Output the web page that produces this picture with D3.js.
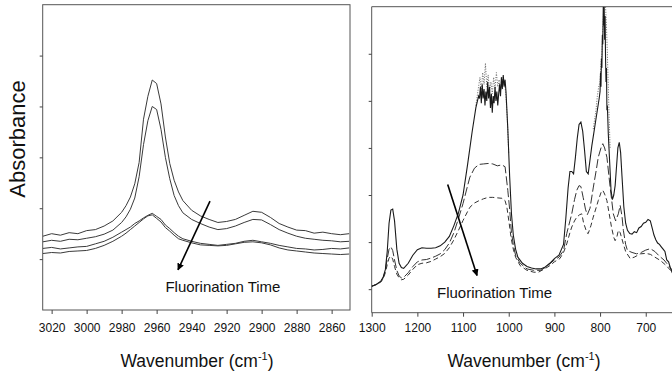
<!DOCTYPE html>
<html><head><meta charset="utf-8">
<script src="https://cdn.jsdelivr.net/npm/d3@7"></script>
<style>body{margin:0;background:#fff}svg{display:block}text{font-family:"Liberation Sans",Arial,sans-serif;fill:#111}</style>
</head><body><svg id="c" width="672" height="374"></svg>
<script>
// ---------- LEFT PANEL (C-H stretch region) ----------
const wnLeft = [3025,3020,3015,3010,3005,3000,2995,2990,2985,2980,2977.5,2975,2972.5,2970,2967.5,2965,2962.5,2960,2957.5,2955,2952.5,2950,2947.5,2945,2940,2935,2930,2925,2920,2915,2910,2905,2900,2895,2890,2885,2880,2875,2870,2865,2860,2855,2850];
const leftS1 = [0.145,0.150,0.147,0.152,0.150,0.156,0.158,0.165,0.175,0.192,0.205,0.222,0.248,0.290,0.375,0.420,0.452,0.445,0.405,0.340,0.288,0.255,0.232,0.215,0.196,0.185,0.178,0.172,0.174,0.178,0.186,0.194,0.192,0.182,0.170,0.163,0.157,0.156,0.151,0.153,0.150,0.148,0.150];
const leftS2 = [0.134,0.137,0.135,0.139,0.138,0.141,0.144,0.149,0.157,0.172,0.183,0.198,0.220,0.262,0.325,0.372,0.400,0.394,0.355,0.300,0.258,0.225,0.205,0.191,0.178,0.170,0.163,0.158,0.160,0.165,0.172,0.178,0.177,0.168,0.158,0.151,0.145,0.141,0.139,0.137,0.136,0.134,0.135];
const leftS3 = [0.121,0.123,0.120,0.122,0.124,0.125,0.130,0.135,0.143,0.153,0.158,0.163,0.170,0.175,0.181,0.186,0.190,0.184,0.178,0.167,0.160,0.152,0.145,0.140,0.135,0.131,0.129,0.127,0.129,0.131,0.135,0.137,0.134,0.131,0.127,0.124,0.121,0.120,0.118,0.119,0.121,0.120,0.122];
const leftS4 = [0.111,0.113,0.112,0.115,0.116,0.117,0.121,0.127,0.135,0.145,0.151,0.158,0.165,0.172,0.179,0.185,0.187,0.180,0.173,0.162,0.155,0.147,0.140,0.137,0.132,0.128,0.127,0.126,0.127,0.130,0.133,0.134,0.132,0.128,0.122,0.118,0.116,0.114,0.112,0.111,0.110,0.109,0.110];
const xTicksLeft = [3020,3000,2980,2960,2940,2920,2900,2880,2860];
const yTicksLeft = [0.1,0.2,0.3,0.4,0.5];
const arrowLeft = [[2929.5,0.214],[2947.8,0.079]];

// ---------- RIGHT PANEL (fingerprint region) ----------
const wnSolid = [1300,1290,1280,1275,1270,1266,1262,1258,1254,1250,1245,1240,1235,1230,1220,1210,1200,1190,1180,1170,1160,1150,1140,1130,1120,1110,1100,1090,1080,1072,1066,
 1064,1062,1060,1058,1056,1054,1052,1050,1048,1046,1044,1042,1040,1038,1036,1034,1032,1030,1028,1026,1024,1022,1020,1018,1016,1014,1012,1010,1008,1006,
 1002,998,994,990,985,980,970,960,950,940,930,920,910,900,890,880,875,870,866,862,858,854,850,846,842,838,834,830,826,822,818,814,810,806,802,
 800,799,798,797,796,795,794,793,792,791,790,789,788,787,786,785,784,
 782,779,776,773,770,767,764,761,758,755,752,748,744,740,735,730,725,720,715,710,705,700,695,690,686,682,678,674,670,666,662,658,654,650,646,642,638];
const solidVals = [0.06,0.10,0.17,0.25,0.42,0.80,1.40,1.68,1.70,1.45,0.85,0.55,0.46,0.44,0.55,0.72,0.84,0.88,0.87,0.87,0.88,0.92,1.00,1.12,1.35,1.62,2.00,2.65,3.35,3.85,4.10,
 4.05,4.30,3.95,4.35,4.05,4.25,3.90,4.20,4.00,4.40,4.05,4.30,3.85,4.15,3.75,4.10,3.95,4.30,4.00,4.20,3.90,4.15,4.35,4.10,4.50,4.25,4.55,4.30,4.45,4.20,
 3.40,2.40,1.60,1.15,0.85,0.68,0.55,0.48,0.45,0.43,0.43,0.47,0.55,0.65,0.72,0.95,1.50,2.15,2.50,2.50,2.45,2.80,3.20,3.50,3.55,3.35,2.95,2.50,2.45,2.75,3.05,3.30,3.55,3.80,4.05,
 4.20,4.60,4.30,4.90,4.70,5.40,5.20,6.00,5.60,6.00,5.30,5.80,4.90,4.40,4.70,3.80,3.90,
 3.30,2.70,2.10,1.90,2.00,2.20,2.60,3.00,3.12,2.90,2.40,1.75,1.40,1.25,1.18,1.17,1.22,1.20,1.30,1.33,1.40,1.42,1.48,1.45,1.30,1.15,1.05,0.98,0.95,0.90,0.85,0.80,0.62,0.58,0.45,0.35,0.30];
const wnDotA = [1072,1069,1066,1063,1060,1057,1054,1051,1048,1045,1042,1039,1036,1033,1030,1027,1024,1021,1018,1015,1012,1009,1006,1003,1000];
const dotValsA = [3.90,4.10,4.30,4.50,4.20,4.60,4.35,4.80,4.30,4.55,4.20,4.40,4.15,4.50,4.25,4.60,4.30,4.45,4.20,4.50,4.35,4.40,4.10,3.60,2.90];
const wnDotB = [815,812,809,806,803,800,798,796,794,792,790,788,786,784,782,780,778];
const dotValsB = [3.40,3.60,3.80,4.10,4.30,4.40,4.80,5.00,5.50,6.00,6.00,6.00,5.60,5.00,4.30,3.60,3.00];
const wnMid = [1300,1290,1280,1275,1270,1266,1262,1258,1254,1250,1245,1240,1235,1230,1220,1210,1200,1190,1180,1170,1160,1150,1140,1130,1120,1110,1100,1090,1085,1075,1065,1055,1045,1035,1025,1015,1008,1002,998,994,990,985,975,960,945,930,920,910,900,890,880,873,866,862,856,851,846,842,837,832,828,822,815,808,804,798,794,790,785,778,771,766,760,756,752,749,744,740,730,720,710,700,690,680,670,660,650,640];
const midVals = [0.06,0.10,0.16,0.24,0.40,0.65,0.85,0.90,0.82,0.62,0.40,0.28,0.24,0.25,0.35,0.48,0.58,0.62,0.63,0.66,0.70,0.75,0.84,0.98,1.20,1.50,1.82,2.20,2.38,2.57,2.65,2.66,2.67,2.66,2.62,2.64,2.60,2.10,1.70,1.20,0.95,0.72,0.55,0.43,0.40,0.40,0.46,0.54,0.62,0.68,0.82,1.18,1.45,1.60,1.90,2.10,2.20,2.18,1.95,1.70,1.58,1.72,2.15,2.55,2.80,3.00,3.09,3.00,2.80,2.17,1.60,1.45,1.60,1.78,1.55,1.25,0.95,0.82,0.78,0.75,0.78,0.83,0.86,0.80,0.70,0.62,0.50,0.38];
const wnLow = [1300,1290,1280,1275,1270,1266,1262,1258,1254,1250,1245,1240,1235,1230,1220,1210,1200,1190,1180,1170,1160,1150,1140,1130,1120,1110,1100,1090,1085,1075,1065,1055,1045,1035,1025,1015,1008,1004,999,995,990,985,975,960,945,935,920,910,900,888,880,873,866,862,856,851,845,840,836,833,829,826,820,815,808,804,798,794,790,785,780,775,770,767,763,760,756,749,744,734,725,712,700,690,680,668,655,642];
const lowVals = [0.06,0.10,0.15,0.22,0.35,0.52,0.66,0.70,0.64,0.48,0.32,0.24,0.20,0.21,0.30,0.42,0.52,0.55,0.56,0.59,0.64,0.69,0.76,0.88,1.05,1.25,1.46,1.65,1.74,1.83,1.88,1.92,1.95,1.95,1.94,1.93,1.88,1.74,1.40,1.10,0.85,0.68,0.50,0.40,0.36,0.36,0.44,0.50,0.58,0.65,0.78,0.96,1.20,1.32,1.45,1.53,1.58,1.60,1.40,1.32,1.20,1.18,1.35,1.53,1.75,1.88,2.05,2.10,2.02,1.88,1.60,1.32,1.10,1.03,1.12,1.25,1.20,0.96,0.80,0.65,0.68,0.75,0.76,0.74,0.68,0.61,0.50,0.36];
const xTicksRight = [1300,1200,1100,1000,900,800,700];
const yTicksRight = [0,1,2,3,4,5];
const arrowRight = [[1133.6,2.224],[1069.4,0.291]];

const annotationText = "Fluorination Time";
const xTitle = "Wavenumber (cm";
const yTitle = "Absorbance";

// ---------- DRAW ----------
const svg = d3.select("#c");
const defs = svg.append("defs");
defs.append("marker").attr("id","ah").attr("viewBox","0 0 10 10").attr("refX",9).attr("refY",5)
  .attr("markerWidth",7).attr("markerHeight",7).attr("markerUnits","userSpaceOnUse").attr("orient","auto")
  .append("path").attr("d","M0,0 L10,5 L0,10 z").attr("fill","#000");

const xL = d3.scaleLinear().domain([3025.1,2849.5]).range([42.7,350]);
const yL = d3.scaleLinear().domain([0,0.6]).range([310,4.7]);
const xR = d3.scaleLinear().domain([1300,625]).range([371.7,680]);
const yR = d3.scaleLinear().domain([-0.5,6]).range([312.7,6.7]);

defs.append("clipPath").attr("id","clipL").append("rect").attr("x",42.7).attr("y",4.7).attr("width",350-42.7).attr("height",310-4.7);
defs.append("clipPath").attr("id","clipR").append("rect").attr("x",371.7).attr("y",6.7).attr("width",680-371.7).attr("height",312.7-6.7);

svg.append("rect").attr("x",42.7).attr("y",4.7).attr("width",350-42.7).attr("height",310-4.7)
  .attr("fill","none").attr("stroke","#555").attr("stroke-width",1);
const gxL = svg.append("g").attr("transform","translate(0,310)")
  .call(d3.axisBottom(xL).tickValues(xTicksLeft).tickSize(4).tickPadding(9).tickFormat(d3.format("d")));
const gyL = svg.append("g").attr("transform","translate(42.7,0)")
  .call(d3.axisLeft(yL).tickValues(yTicksLeft).tickSize(3).tickFormat(""));

svg.append("path").attr("d",`M680,${yR(6)}H${xR(1300)}V${yR(-0.5)}H680`).attr("fill","none").attr("stroke","#555").attr("stroke-width",1);
const gxR = svg.append("g").attr("transform","translate(0,312.7)")
  .call(d3.axisBottom(xR).tickValues(xTicksRight).tickSize(4).tickPadding(7).tickFormat(d3.format("d")));
const gyR = svg.append("g").attr("transform","translate(371.7,0)")
  .call(d3.axisLeft(yR).tickValues(yTicksRight).tickSize(3).tickFormat(""));

[gxL,gyL,gxR,gyR].forEach(g=>{
  g.select(".domain").remove();
  g.selectAll(".tick line").attr("stroke","#444");
  g.selectAll(".tick text").attr("font-size",12).attr("font-family","Liberation Sans, Arial, sans-serif").attr("fill","#111");
});

const lineL = d3.line().x(d=>xL(d[0])).y(d=>yL(d[1]));
const gL = svg.append("g").attr("clip-path","url(#clipL)");
[leftS1,leftS2,leftS3,leftS4].forEach(s=>{
  gL.append("path").attr("d",lineL(wnLeft.map((w,i)=>[w,s[i]])))
    .attr("fill","none").attr("stroke","#3a3a3a").attr("stroke-width",1);
});

const lineR = d3.line().x(d=>xR(d[0])).y(d=>yR(d[1]));
const gR = svg.append("g").attr("clip-path","url(#clipR)");
gR.append("path").attr("d",lineR(wnLow.map((w,i)=>[w,lowVals[i]])))
  .attr("fill","none").attr("stroke","#333").attr("stroke-width",1).attr("stroke-dasharray","5,3");
gR.append("path").attr("d",lineR(wnMid.map((w,i)=>[w,midVals[i]])))
  .attr("fill","none").attr("stroke","#333").attr("stroke-width",1).attr("stroke-dasharray","9,3");
gR.append("path").attr("d",lineR(wnDotA.map((w,i)=>[w,dotValsA[i]])))
  .attr("fill","none").attr("stroke","#666").attr("stroke-width",1).attr("stroke-dasharray","1,1.5");
gR.append("path").attr("d",lineR(wnDotB.map((w,i)=>[w,dotValsB[i]])))
  .attr("fill","none").attr("stroke","#666").attr("stroke-width",1).attr("stroke-dasharray","1,1.5");
gR.append("path").attr("d",lineR(wnSolid.map((w,i)=>[w,solidVals[i]])))
  .attr("fill","none").attr("stroke","#1a1a1a").attr("stroke-width",1.1);

svg.append("line").attr("x1",xL(arrowLeft[0][0])).attr("y1",yL(arrowLeft[0][1]))
  .attr("x2",xL(arrowLeft[1][0])).attr("y2",yL(arrowLeft[1][1]))
  .attr("stroke","#000").attr("stroke-width",1.6).attr("marker-end","url(#ah)");
svg.append("line").attr("x1",xR(arrowRight[0][0])).attr("y1",yR(arrowRight[0][1]))
  .attr("x2",xR(arrowRight[1][0])).attr("y2",yR(arrowRight[1][1]))
  .attr("stroke","#000").attr("stroke-width",1.6).attr("marker-end","url(#ah)");

svg.append("text").attr("x",xL(2922.1)).attr("y",292).attr("text-anchor","middle").attr("font-size",15).text(annotationText);
svg.append("text").attr("x",xR(1031)).attr("y",298).attr("text-anchor","middle").attr("font-size",15).text(annotationText);

function xTitleAt(cx){
  const t = svg.append("text").attr("x",cx).attr("y",367).attr("text-anchor","middle").attr("font-size",17.5);
  t.append("tspan").text(xTitle);
  t.append("tspan").attr("dy",-7).attr("font-size",11).text("-1");
  t.append("tspan").attr("dy",7).text(")");
}
xTitleAt(197);
xTitleAt(524);
svg.append("text").attr("transform","translate(25,139) rotate(-90)").attr("text-anchor","middle").attr("font-size",22).text(yTitle);
</script></body></html>
